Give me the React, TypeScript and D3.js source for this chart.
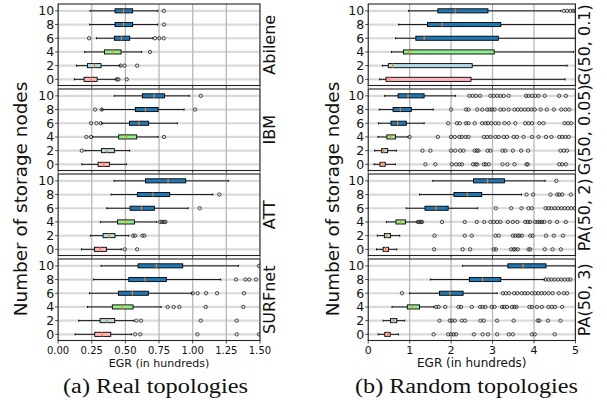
import React from 'react';
import * as d3 from 'd3';

// rows: storage nodes, lo whisker, q1, median, q3, hi whisker, outliers
type Row = [number, number, number, number, number, number, number[]];

const storageNodes = [0, 2, 4, 6, 8, 10];
const yTicks = [0, 2, 4, 6, 8, 10];
const realTicks = [0, 0.25, 0.5, 0.75, 1.0, 1.25, 1.5];
const randomTicks = [0, 1, 2, 3, 4, 5];

const realNames = ['Abilene', 'IBM', 'ATT', 'SURFnet'];
const randomNames = ['G(50, 0.1)', 'G(50, 0.05)', 'PA(50, 2)', 'PA(50, 3)'];

const abilene: Row[] = [
  [0, 0.121, 0.193, 0.245, 0.29, 0.43, [0.436, 0.448, 0.51]],
  [2, 0.136, 0.218, 0.27, 0.319, 0.46, [0.465, 0.493, 0.587]],
  [4, 0.198, 0.344, 0.403, 0.468, 0.621, [0.683]],
  [6, 0.285, 0.418, 0.47, 0.532, 0.703, [0.23, 0.72, 0.752, 0.785]],
  [8, 0.235, 0.423, 0.485, 0.554, 0.74, [0.787]],
  [10, 0.238, 0.423, 0.485, 0.554, 0.74, [0.785]],
];
const ibm: Row[] = [
  [0, 0.176, 0.297, 0.339, 0.381, 0.507, []],
  [2, 0.2, 0.322, 0.364, 0.418, 0.532, [0.176]],
  [4, 0.257, 0.45, 0.507, 0.584, 0.743, [0.21, 0.245, 0.787]],
  [6, 0.324, 0.53, 0.6, 0.673, 0.886, [0.245, 0.285, 0.317]],
  [8, 0.324, 0.574, 0.649, 0.743, 0.936, [0.275, 0.324, 1.017]],
  [10, 0.418, 0.626, 0.713, 0.79, 0.975, [1.06]],
];
const att: Row[] = [
  [0, 0.173, 0.27, 0.309, 0.359, 0.47, [0.495, 0.587]],
  [2, 0.24, 0.334, 0.379, 0.423, 0.525, [0.557, 0.572, 0.626, 0.641]],
  [4, 0.314, 0.441, 0.502, 0.567, 0.733, [0.76, 0.772, 0.787, 0.797]],
  [6, 0.361, 0.535, 0.619, 0.715, 0.965, [1.052]],
  [8, 0.394, 0.589, 0.705, 0.829, 1.149, [1.198]],
  [10, 0.416, 0.649, 0.817, 0.948, 1.265, []],
];
const surfnet: Row[] = [
  [0, 0.126, 0.272, 0.327, 0.391, 0.545, [0.572, 0.611, 1.035, 1.327, 1.493]],
  [2, 0.153, 0.312, 0.361, 0.421, 0.562, [0.582, 0.616, 1.06, 1.327]],
  [4, 0.218, 0.403, 0.475, 0.557, 0.765, [0.814, 0.859, 0.901, 1.097, 1.376]],
  [6, 0.233, 0.448, 0.552, 0.671, 0.993, [1.0, 1.037, 1.099, 1.181, 1.381]],
  [8, 0.262, 0.525, 0.646, 0.804, 1.208, [1.322, 1.391, 1.42, 1.47]],
  [10, 0.319, 0.594, 0.73, 0.926, 1.339, [1.493]],
];

const gnp01: Row[] = [
  [0, 0.276, 0.43, 0.51, 2.48, 4.75, []],
  [2, 0.34, 0.485, 0.59, 2.51, 4.8, []],
  [4, 0.56, 0.85, 0.976, 3.04, 4.95, []],
  [6, 0.66, 1.15, 1.35, 3.14, 5.0, []],
  [8, 0.735, 1.43, 1.78, 3.2, 5.0, []],
  [10, 0.976, 1.68, 2.1, 2.89, 4.65, [4.72, 4.8, 4.88, 4.95, 5.0]],
];
const gnp005: Row[] = [
  [0, 0.14, 0.284, 0.35, 0.41, 0.654, [1.38, 1.62, 2.02, 2.12, 2.2, 2.26, 2.53, 2.59, 2.63, 2.79, 2.84, 2.91, 3.24, 3.36, 3.53, 3.82, 3.85, 4.61, 4.68, 4.77]],
  [2, 0.155, 0.325, 0.37, 0.47, 0.68, [1.31, 1.5, 2.0, 2.1, 2.22, 2.3, 2.57, 2.62, 2.66, 2.88, 2.95, 3.24, 3.31, 3.49, 3.69, 3.86, 4.64, 4.72, 4.8]],
  [4, 0.235, 0.45, 0.54, 0.66, 0.96, [1.0, 1.68, 2.0, 2.09, 2.2, 2.26, 2.35, 2.42, 2.79, 2.87, 2.95, 3.07, 3.15, 3.27, 3.35, 3.51, 3.59, 3.75, 3.95, 4.11, 4.29, 4.42, 4.61, 4.68, 4.76, 4.84]],
  [6, 0.25, 0.55, 0.71, 0.92, 1.35, [1.93, 2.14, 2.21, 2.36, 2.42, 2.57, 2.75, 2.83, 2.89, 2.97, 3.07, 3.15, 3.29, 3.39, 3.55, 3.79, 3.87, 3.95, 4.13, 4.23, 4.74, 4.82, 4.9]],
  [8, 0.268, 0.6, 0.775, 1.04, 1.57, [2.0, 2.36, 2.42, 2.63, 2.75, 2.87, 2.93, 2.99, 3.05, 3.19, 3.27, 3.39, 3.53, 3.61, 3.69, 3.78, 3.86, 3.94, 4.02, 4.16, 4.31, 4.48, 4.66, 4.76, 4.85]],
  [10, 0.397, 0.72, 0.96, 1.35, 2.11, [2.44, 2.52, 2.6, 2.7, 2.95, 3.03, 3.11, 3.19, 3.27, 3.39, 3.81, 3.87, 3.95, 4.03, 4.11, 4.26, 4.61, 4.77]],
];
const pa2: Row[] = [
  [0, 0.2, 0.36, 0.42, 0.49, 0.69, [1.59, 2.28, 2.46, 3.03, 3.08, 3.45, 3.51, 3.55, 3.61, 3.87, 3.91, 4.26, 4.45, 4.65]],
  [2, 0.22, 0.39, 0.45, 0.54, 0.76, [1.6, 2.33, 2.5, 3.07, 3.15, 3.49, 3.55, 3.61, 3.65, 3.71, 3.91, 3.97, 4.29, 4.48, 4.7]],
  [4, 0.44, 0.67, 0.775, 0.9, 1.18, [1.2, 1.24, 1.27, 1.3, 1.78, 2.33, 2.62, 2.8, 2.95, 3.03, 3.11, 3.19, 3.37, 3.49, 3.6, 3.79, 3.85, 3.91, 4.03, 4.09, 4.14, 4.19, 4.25, 4.38, 4.56, 4.77]],
  [6, 0.92, 1.37, 1.64, 1.93, 2.64, [3.08, 3.45, 3.7, 3.87, 3.95, 4.28, 4.35, 4.42, 4.5, 4.58, 4.66, 4.74, 4.82, 4.9, 4.98]],
  [8, 1.24, 2.07, 2.39, 2.74, 3.7, [3.82, 3.98, 4.4, 4.56, 4.61, 4.68, 4.89]],
  [10, 1.56, 2.54, 2.88, 3.29, 4.27, [4.54]],
];
const pa3: Row[] = [
  [0, 0.24, 0.4, 0.47, 0.53, 0.73, [1.58, 1.93, 2.0, 2.06, 2.12, 2.55, 2.76, 2.89, 3.11, 3.39, 3.49, 3.95, 4.02, 4.5]],
  [2, 0.36, 0.54, 0.61, 0.69, 0.88, [1.72, 1.97, 2.02, 2.09, 2.26, 2.34, 2.71, 2.79, 3.11, 3.51, 4.09, 4.13, 4.34, 4.64]],
  [4, 0.574, 0.944, 1.06, 1.24, 1.58, [1.64, 1.7, 1.86, 2.18, 2.24, 2.5, 2.7, 2.76, 2.83, 2.98, 3.05, 3.23, 3.28, 3.35, 3.47, 3.53, 3.58, 3.89, 3.95, 4.07, 4.19, 4.35, 4.43, 4.51, 4.68]],
  [6, 1.0, 1.72, 1.97, 2.29, 3.11, [0.815, 3.25, 3.32, 3.4, 3.52, 3.6, 3.7, 3.78, 3.85, 3.95, 4.03, 4.1, 4.18, 4.26, 4.35, 4.45, 4.6, 4.72, 4.8]],
  [8, 1.5, 2.44, 2.76, 3.2, 4.25, [4.28, 4.35, 4.42, 4.5, 4.58, 4.66, 4.74, 4.82, 4.88]],
  [10, 2.28, 3.37, 3.74, 4.29, 5.0, []],
];

const boxColor = (n: number) =>
  n === 0 ? '#ffb6c1' : n === 2 ? '#add8e6' : n === 4 ? '#90ee90' : '#1f77b4';

const panelTops = [4, 89, 174, 259];
const panelH = 81.5;
const font = 'DejaVu Sans, sans-serif';

function Panel({ rows, top, x, name, ticks, last }: any) {
  const y = d3.scaleLinear().domain([-0.9, 11]).range([top + panelH, top]);
  const [x0, x1] = x.range();
  const bw = y(0) - y(0.6);
  const cw = y(0) - y(0.3);
  const clipId = `clip-${name.replace(/[^a-zA-Z0-9]/g, '')}`;
  return (
    <g>
      <defs>
        <clipPath id={clipId}>
          <rect x={x0} y={top} width={x1 - x0} height={panelH} />
        </clipPath>
      </defs>
      <g clipPath={`url(#${clipId})`}>
        {yTicks.map((t) => (
          <line key={'h' + t} x1={x0} x2={x1} y1={y(t)} y2={y(t)} stroke="#d9d9d9" strokeWidth={2.2} />
        ))}
        {ticks.map((t: number) => (
          <line key={'v' + t} x1={x(t)} x2={x(t)} y1={top} y2={top + panelH} stroke="#b8b8b8" strokeWidth={1.3} />
        ))}
        {rows.map((r: Row) => {
          const [n, lo, q1, med, q3, hi, out] = r;
          const cy = y(n);
          return (
            <g key={n}>
              <line x1={x(lo)} x2={x(q1)} y1={cy} y2={cy} stroke="#000" strokeWidth={0.9} />
              <line x1={x(q3)} x2={x(hi)} y1={cy} y2={cy} stroke="#000" strokeWidth={0.9} />
              <line x1={x(lo)} x2={x(lo)} y1={cy - cw / 2} y2={cy + cw / 2} stroke="#000" strokeWidth={0.9} />
              <line x1={x(hi)} x2={x(hi)} y1={cy - cw / 2} y2={cy + cw / 2} stroke="#000" strokeWidth={0.9} />
              <rect x={x(q1)} y={cy - bw / 2} width={x(q3) - x(q1)} height={bw} fill={boxColor(n)} stroke="#000" strokeWidth={0.9} />
              <line x1={x(med)} x2={x(med)} y1={cy - bw / 2} y2={cy + bw / 2} stroke="#ff7f0e" strokeWidth={1.2} />
              {out.map((o: number, i: number) => (
                <circle key={i} cx={x(o)} cy={cy} r={1.7} fill="none" stroke="#222" strokeWidth={0.8} />
              ))}
            </g>
          );
        })}
      </g>
      <rect x={x0} y={top} width={x1 - x0} height={panelH} fill="none" stroke="#222" strokeWidth={1.1} />
      {yTicks.map((t) => (
        <g key={'yt' + t}>
          <line x1={x0 - 3} x2={x0} y1={y(t)} y2={y(t)} stroke="#222" strokeWidth={0.8} />
          <text x={x0 - 4} y={y(t)} dy="0.36em" textAnchor="end" fontSize={12.5} fontFamily={font} fill="#111">
            {t}
          </text>
        </g>
      ))}
      {ticks.map((t: number) => (
        <line key={'xt' + t} x1={x(t)} x2={x(t)} y1={top + panelH} y2={top + panelH + 3} stroke="#222" strokeWidth={0.8} />
      ))}
      <text
        transform={`translate(${x1 + 15},${top + panelH / 2}) rotate(-90)`}
        textAnchor="middle"
        fontSize={16}
        fontFamily={font}
        fill="#111"
      >
        {name}
      </text>
    </g>
  );
}

export default function App() {
  const leftX = d3.scaleLinear().domain([0, 1.5]).range([58.1, 260]);
  const rightX = d3.scaleLinear().domain([0, 5]).range([368.2, 575.4]);
  const realData = [abilene, ibm, att, surfnet];
  const randomData = [gnp01, gnp005, pa2, pa3];
  const bottom = panelTops[3] + panelH;
  return (
    <svg width={607} height={402} style={{ position: 'absolute', left: 0, top: 0, background: '#fff' }}>
      <rect width={607} height={402} fill="#fff" />
      {realData.map((rows, i) => (
        <Panel key={'r' + i} rows={rows} top={panelTops[i]} x={leftX} name={realNames[i]} ticks={realTicks} />
      ))}
      {randomData.map((rows, i) => (
        <Panel key={'g' + i} rows={rows} top={panelTops[i]} x={rightX} name={randomNames[i]} ticks={randomTicks} />
      ))}
      {realTicks.map((t) => (
        <text key={'lx' + t} x={leftX(t)} y={bottom + 13} textAnchor="middle" fontSize={10} fontFamily={font} fill="#111">
          {d3.format('.2f')(t)}
        </text>
      ))}
      {randomTicks.map((t) => (
        <text key={'rx' + t} x={rightX(t)} y={bottom + 13} textAnchor="middle" fontSize={11} fontFamily={font} fill="#111">
          {t}
        </text>
      ))}
      <text x={(58.1 + 260) / 2} y={bottom + 26} textAnchor="middle" fontSize={11} fontFamily={font} fill="#111">
        EGR (in hundreds)
      </text>
      <text x={(368.2 + 575.4) / 2} y={bottom + 26} textAnchor="middle" fontSize={12} fontFamily={font} fill="#111">
        EGR (in hundreds)
      </text>
      <text transform="translate(27,199) rotate(-90)" textAnchor="middle" fontSize={18.4} fontFamily={font} fill="#111">
        Number of storage nodes
      </text>
      <text transform="translate(338.5,199) rotate(-90)" textAnchor="middle" fontSize={18.4} fontFamily={font} fill="#111">
        Number of storage nodes
      </text>
      <text x={155.5} y={392.5} textAnchor="middle" fontSize={20} fontFamily="Liberation Serif, serif" textLength={185} lengthAdjust="spacingAndGlyphs" fill="#111">
        (a) Real topologies
      </text>
      <text x={466.5} y={392.5} textAnchor="middle" fontSize={20} fontFamily="Liberation Serif, serif" textLength={223} lengthAdjust="spacingAndGlyphs" fill="#111">
        (b) Random topologies
      </text>
    </svg>
  );
}
